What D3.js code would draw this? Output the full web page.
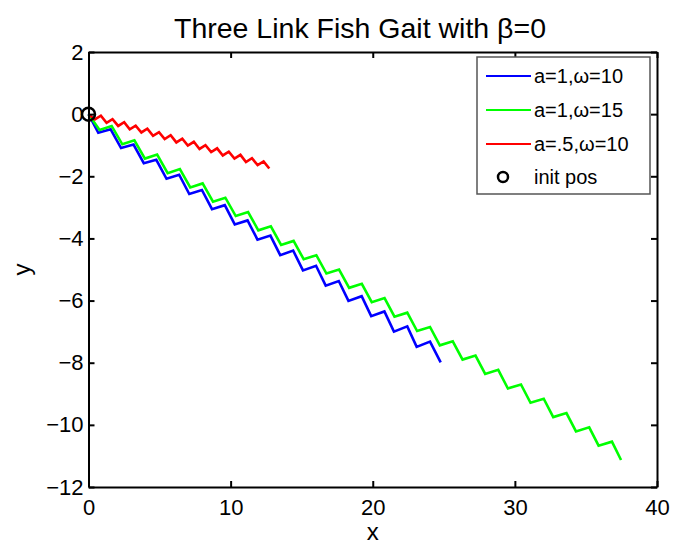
<!DOCTYPE html>
<html lang="en">
<head>
<meta charset="UTF-8">
<title>Three Link Fish Gait</title>
<style>
  body { margin: 0; background: #fff; }
  svg { display: block; background: #fff; }
  .line { fill: none; stroke-width: 2.6; stroke-linejoin: miter; }
  .axis path, .axis line { stroke: #000; stroke-width: 2; }
  .axis text { font-size: 22px; fill: #000; font-family: "Liberation Sans", Arial, Helvetica, sans-serif; }
  .label { font-family: "Liberation Sans", Arial, Helvetica, sans-serif; fill: #000; }
</style>
</head>
<body>
<svg width="688" height="544"></svg>
<script src="https://d3js.org/d3.v7.min.js"></script>
<script>
// tick values
const xTicks = [0, 10, 20, 30, 40];
const yTicks = [-12, -10, -8, -6, -4, -2, 0, 2];

// trajectories, [x, y]
const blue = [[0,0],[0.69,-0.60],[1.56,-0.49],[2.29,-1.09],[3.17,-0.98],[3.89,-1.58],[4.77,-1.47],
  [5.49,-2.08],[6.38,-1.95],[7.09,-2.57],[7.98,-2.44],[8.69,-3.06],[9.59,-2.93],[10.29,-3.55],
  [11.19,-3.42],[11.89,-4.04],[12.80,-3.91],[13.49,-4.54],[14.40,-4.39],[15.09,-5.03],[16.01,-4.88],
  [16.69,-5.52],[17.61,-5.37],[18.29,-6.01],[19.22,-5.86],[19.89,-6.50],[20.82,-6.35],[21.49,-7.00],
  [22.43,-6.83],[23.09,-7.49],[24.03,-7.32],[24.78,-7.99]];

const green = [[0,0],[0.78,-0.51],[1.63,-0.38],[2.38,-0.97],[3.23,-0.84],[3.97,-1.43],[4.83,-1.30],
  [5.57,-1.90],[6.43,-1.77],[7.16,-2.36],[8.03,-2.23],[8.76,-2.82],[9.63,-2.69],[10.36,-3.28],
  [11.23,-3.15],[11.95,-3.74],[12.83,-3.61],[13.55,-4.21],[14.43,-4.08],[15.14,-4.67],[16.03,-4.54],
  [16.74,-5.13],[17.63,-5.00],[18.34,-5.59],[19.23,-5.46],[19.93,-6.05],[20.83,-5.92],[21.53,-6.52],
  [22.43,-6.39],[23.12,-6.98],[24.03,-6.85],[24.72,-7.44],[25.63,-7.31],[26.32,-7.90],[27.23,-7.77],
  [27.91,-8.36],[28.83,-8.23],[29.51,-8.83],[30.43,-8.70],[31.10,-9.29],[32.03,-9.16],[32.70,-9.75],
  [33.63,-9.62],[34.30,-10.21],[35.23,-10.08],[35.89,-10.67],[36.83,-10.54],[37.47,-11.13]];

const red = [[0,0],[0.45,-0.17],[0.87,-0.05],[1.27,-0.28],[1.69,-0.16],[2.09,-0.38],[2.51,-0.26],
  [2.90,-0.49],[3.32,-0.37],[3.72,-0.59],[4.14,-0.47],[4.54,-0.70],[4.96,-0.58],[5.36,-0.80],
  [5.78,-0.68],[6.18,-0.91],[6.60,-0.79],[6.99,-1.01],[7.41,-0.89],[7.81,-1.12],[8.23,-1.00],
  [8.63,-1.22],[9.05,-1.10],[9.45,-1.33],[9.87,-1.21],[10.27,-1.43],[10.69,-1.31],[11.08,-1.54],
  [11.50,-1.42],[11.90,-1.64],[12.32,-1.52],[12.72,-1.75]];

const initPos = [[0, 0]];

const seriesNames = ["a=1,\u03c9=10", "a=1,\u03c9=15", "a=.5,\u03c9=10"];
const seriesColors = ["#0000ff", "#00ff00", "#ff0000"];

const svg = d3.select("svg"),
    margin = {top: 52, right: 31, bottom: 57, left: 88.5},
    width = +svg.attr("width") - margin.left - margin.right,
    height = +svg.attr("height") - margin.top - margin.bottom,
    g = svg.append("g").attr("transform", `translate(${margin.left},${margin.top})`);

const x = d3.scaleLinear().domain([0, 40]).range([0, width]);
const y = d3.scaleLinear().domain([-12, 2]).range([height, 0]);

const line = d3.line()
    .x(d => x(d[0]))
    .y(d => y(d[1]));

// data
[blue, green, red].forEach((s, i) => {
    g.append("path")
        .datum(s)
        .attr("class", "line")
        .attr("d", line)
        .style("stroke", seriesColors[i]);
});

g.selectAll(".init")
    .data(initPos)
    .enter().append("circle")
    .attr("class", "init")
    .attr("cx", d => x(d[0]))
    .attr("cy", d => y(d[1]))
    .attr("r", 6.5)
    .style("fill", "none")
    .style("stroke", "#000")
    .style("stroke-width", 2.5);

// box axes, ticks inside
g.append("g").attr("class", "axis")
    .attr("transform", `translate(0,${height})`)
    .call(d3.axisBottom(x).tickValues(xTicks).tickSizeInner(-6).tickSizeOuter(0).tickPadding(12));
g.append("g").attr("class", "axis")
    .call(d3.axisTop(x).tickValues(xTicks).tickSizeInner(-6).tickSizeOuter(0).tickFormat(""));
g.append("g").attr("class", "axis")
    .call(d3.axisLeft(y).tickValues(yTicks).tickSizeInner(-6).tickSizeOuter(0).tickPadding(5));
g.append("g").attr("class", "axis")
    .attr("transform", `translate(${width},0)`)
    .call(d3.axisRight(y).tickValues(yTicks).tickSizeInner(-6).tickSizeOuter(0).tickFormat(""));

// titles
svg.append("text")
    .attr("class", "label")
    .attr("x", 360)
    .attr("y", 38)
    .attr("text-anchor", "middle")
    .style("font-size", "28.5px")
    .text("Three Link Fish Gait with \u03b2=0");

svg.append("text")
    .attr("class", "label")
    .attr("x", margin.left + width / 2)
    .attr("y", 540)
    .attr("text-anchor", "middle")
    .style("font-size", "24px")
    .text("x");

svg.append("text")
    .attr("class", "label")
    .attr("transform", `translate(30,${margin.top + height / 2}) rotate(-90)`)
    .attr("text-anchor", "middle")
    .style("font-size", "24px")
    .text("y");

// legend
const lg = svg.append("g").attr("transform", "translate(477,57)");
lg.append("rect")
    .attr("width", 173)
    .attr("height", 137)
    .style("fill", "#fff")
    .style("stroke", "#555")
    .style("stroke-width", 1.5);

const rowY = [19, 53, 87, 120];

seriesNames.forEach((name, i) => {
    lg.append("line")
        .attr("x1", 9).attr("x2", 54)
        .attr("y1", rowY[i]).attr("y2", rowY[i])
        .style("stroke", seriesColors[i])
        .style("stroke-width", 2.2);
    lg.append("text")
        .attr("class", "label")
        .attr("x", 57)
        .attr("y", rowY[i])
        .attr("dy", "0.35em")
        .style("font-size", "20px")
        .text(name);
});

lg.append("circle")
    .attr("cx", 26)
    .attr("cy", rowY[3])
    .attr("r", 5)
    .style("fill", "none")
    .style("stroke", "#000")
    .style("stroke-width", 2.5);
lg.append("text")
    .attr("class", "label")
    .attr("x", 57)
    .attr("y", rowY[3])
    .attr("dy", "0.35em")
    .style("font-size", "20px")
    .text("init pos");
</script>
</body>
</html>
